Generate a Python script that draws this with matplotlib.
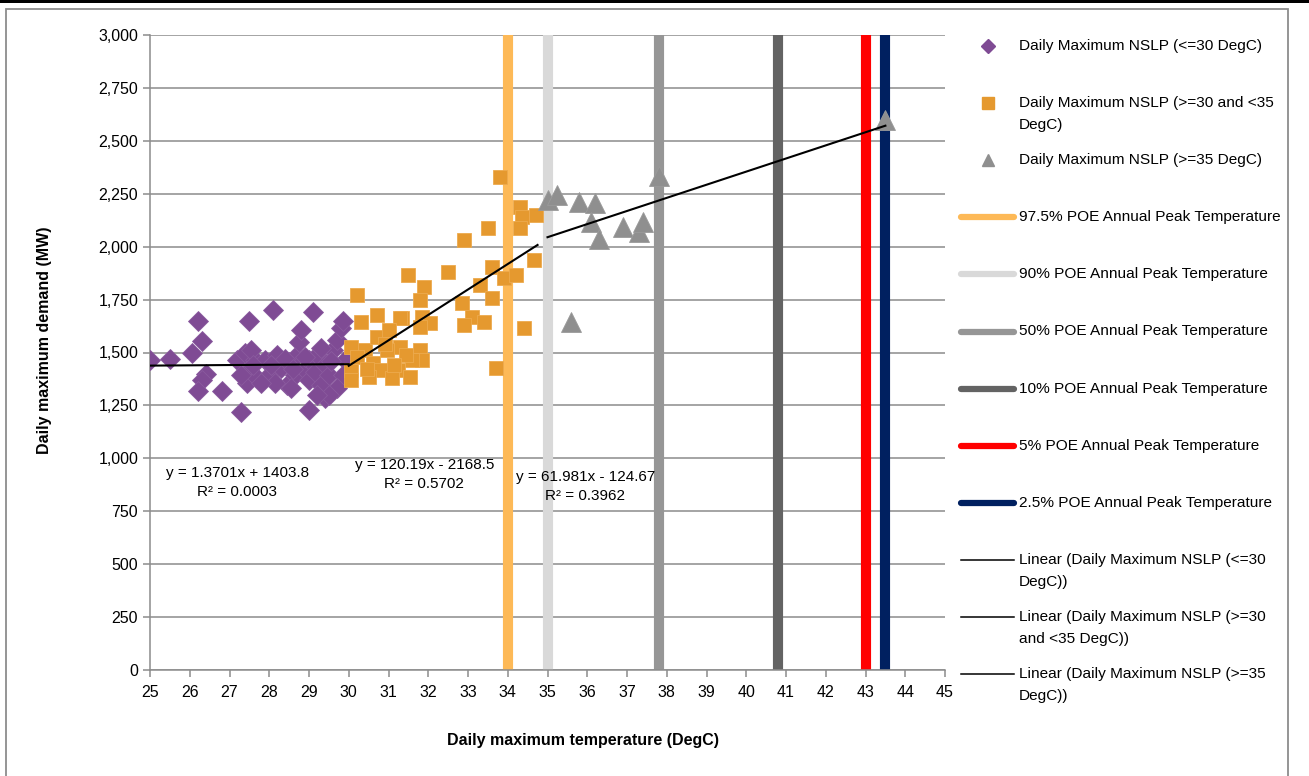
import matplotlib.pyplot as plt
from matplotlib.lines import Line2D
from matplotlib.patches import Rectangle

plt.rcParams['font.family'] = ['Liberation Sans Narrow', 'Liberation Sans', 'DejaVu Sans']

# Daily maximum NSLP (<=30 DegC)
cool_t = [25.0, 25.5, 26.05, 26.2, 26.3, 26.4, 26.3, 26.2, 26.8, 27.3, 27.5, 28.1, 29.1, 29.0, 29.4,
          27.2, 27.4, 27.5, 27.45, 27.65, 27.7, 27.3, 27.55,
          27.9, 28.0, 28.2, 28.3, 28.45, 28.5, 28.65, 28.7, 28.75, 28.8, 28.55, 28.15, 27.8,
          28.9, 29.0, 29.0, 29.15, 29.2, 29.3, 29.4, 29.5, 29.6, 29.7, 29.8, 29.85, 29.9, 29.85,
          29.7, 29.5, 29.2, 28.4, 28.6, 28.9, 29.3, 27.6, 28.05, 29.55]
cool_mw = [1465, 1470, 1500, 1650, 1555, 1400, 1370, 1320, 1320, 1220, 1650, 1700, 1690, 1230, 1285,
           1465, 1500, 1417, 1355, 1465, 1380, 1395, 1510,
           1465, 1395, 1490, 1425, 1345, 1455, 1395, 1490, 1550, 1605, 1330, 1355, 1355,
           1417, 1370, 1465, 1410, 1490, 1345, 1440, 1395, 1510, 1560, 1615, 1650, 1465, 1395,
           1330, 1300, 1300, 1470, 1420, 1480, 1520, 1440, 1440, 1460]

# Daily maximum NSLP (>=30 and <35 DegC)
warm_t = [33.8, 34.3, 34.35, 34.7, 34.3, 33.5, 32.9, 34.65, 33.6, 33.9, 34.2, 32.5, 31.5, 31.9,
          30.2, 33.3, 33.6, 32.85, 33.1, 32.9, 33.4, 34.4, 33.7, 31.8, 31.85, 32.05, 31.35, 31.8,
          30.3, 30.7, 31.3, 30.05, 30.05, 30.05, 30.4, 30.7, 31.0, 31.3, 30.95, 30.6, 30.8, 31.25,
          31.55, 31.1, 31.8, 31.85, 30.5, 31.6, 31.45, 30.2, 30.9, 31.15, 30.45]
warm_mw = [2329, 2187, 2140, 2150, 2088, 2088, 2031, 1937, 1904, 1852, 1866, 1880, 1866, 1809,
           1771, 1819, 1757, 1734, 1667, 1630, 1644, 1615, 1427, 1748, 1667, 1640, 1663, 1620,
           1644, 1677, 1663, 1526, 1417, 1370, 1512, 1573, 1606, 1526, 1512, 1450, 1417, 1417,
           1384, 1379, 1512, 1465, 1384, 1465, 1488, 1480, 1540, 1440, 1420]

# Daily maximum NSLP (>=35 DegC)
hot_t = [35.0, 35.25, 35.8, 36.2, 36.1, 36.3, 36.9, 37.3, 37.4, 37.8, 35.6, 43.5]
hot_mw = [2220, 2244, 2211, 2206, 2116, 2036, 2093, 2069, 2116, 2334, 1644, 2598]

# trendline coefficients (slope, intercept) and fitted range
trend_coef = [(1.3701, 1403.8), (120.19, -2168.5), (61.981, -124.67)]
trend_range = [(25.0, 30.0), (30.0, 34.75), (35.0, 43.5)]
trend_text = ['y = 1.3701x + 1403.8\nR² = 0.0003',
              'y = 120.19x - 2168.5\nR² = 0.5702',
              'y = 61.981x - 124.67\nR² = 0.3962']

# POE annual peak temperatures
poe_labels = ['97.5% POE Annual Peak Temperature', '90% POE Annual Peak Temperature',
              '50% POE Annual Peak Temperature', '10% POE Annual Peak Temperature',
              '5% POE Annual Peak Temperature', '2.5% POE Annual Peak Temperature']
poe_temps = [34.0, 35.0, 37.8, 40.8, 43.0, 43.5]
poe_colors = ['#FDB957', '#D9D9D9', '#969696', '#636363', '#FF0000', '#002060']

purple = '#7F4B94'
orange = '#E5992F'
grey = '#8F8F8F'

W, H = 1309, 776
fig = plt.figure(figsize=(W / 100, H / 100), dpi=100)
ax = fig.add_axes([150 / W, 1 - 670 / H, 795 / W, 635 / H])

for t, c in zip(poe_temps, poe_colors):
    ax.axvline(t, color=c, lw=7.3, zorder=2)

ax.plot(cool_t, cool_mw, 'D', ms=10.5, color=purple, mec='#8A5A9E', mew=0.6, zorder=3)
ax.plot(warm_t, warm_mw, 's', ms=10.5, color=orange, mec='#EDAA4E', mew=0.6, zorder=3)
ax.plot(hot_t, hot_mw, '^', ms=14, color=grey, mec='#9A9A9A', mew=0.6, zorder=3)

for (m, b), (x0, x1) in zip(trend_coef, trend_range):
    ax.plot([x0, x1], [m * x0 + b, m * x1 + b], color='black', lw=1.5, zorder=4)

eq_style = dict(ha='center', va='center', fontsize=11, linespacing=1.45)
ax.text(27.2, 885, trend_text[0], **eq_style)
ax.text(31.9, 925, trend_text[1], **eq_style)
ax.text(35.95, 865, trend_text[2], **eq_style)

ax.set_xlim(25, 45)
ax.set_ylim(0, 3000)
ax.set_xticks(range(25, 46))
ax.set_yticks(range(0, 3001, 250))
ax.set_yticklabels([f'{v:,}' for v in range(0, 3001, 250)])
ax.yaxis.grid(True, color='#8C8C8C', lw=1.1)
ax.set_axisbelow(True)
for s in ['top', 'right']:
    ax.spines[s].set_visible(False)
for s in ['left', 'bottom']:
    ax.spines[s].set_color('#8C8C8C')
    ax.spines[s].set_linewidth(1.1)
ax.tick_params(axis='both', colors='#8C8C8C', labelcolor='black', labelsize=11.5,
               length=5, width=1.1, direction='out')
ax.tick_params(axis='x', pad=6)

fig.text(45 / W, 1 - 340 / H, 'Daily maximum demand (MW)', rotation=90, ha='center',
         va='center', fontsize=11.5, fontweight='bold')
fig.text(583 / W, 1 - 741 / H, 'Daily maximum temperature (DegC)', ha='center',
         va='center', fontsize=11.5, fontweight='bold')

# legend, drawn entry by entry
legend_entries = [
    (['Daily Maximum NSLP (<=30 DegC)'], dict(marker='D', color=purple, ms=7, ls='none')),
    (['Daily Maximum NSLP (>=30 and <35', 'DegC)'], dict(marker='s', color=orange, ms=8, ls='none')),
    (['Daily Maximum NSLP (>=35 DegC)'], dict(marker='^', color=grey, ms=9, ls='none')),
]
for lab, c in zip(poe_labels, poe_colors):
    legend_entries.append(([lab], dict(color=c, lw=4.5, solid_capstyle='round')))
legend_entries += [
    (['Linear (Daily Maximum NSLP (<=30', 'DegC))'], dict(color='black', lw=1.1)),
    (['Linear (Daily Maximum NSLP (>=30', 'and <35 DegC))'], dict(color='black', lw=1.1)),
    (['Linear (Daily Maximum NSLP (>=35', 'DegC))'], dict(color='black', lw=1.1)),
]
for i, (lines, style) in enumerate(legend_entries):
    y = 46 + 57.1 * i
    if style.get('ls') == 'none':
        fig.add_artist(Line2D([988 / W], [1 - y / H], **style))
    else:
        fig.add_artist(Line2D([961 / W, 1014 / W], [1 - y / H, 1 - y / H], **style))
    for k, txt in enumerate(lines):
        fig.text(1019 / W, 1 - (y + 22 * k) / H, txt, ha='left', va='center', fontsize=11.1)

# chart frame
fig.add_artist(Rectangle((6 / W, -0.05), 1282 / W, 1 - 9.5 / H + 0.05, transform=fig.transFigure,
                         fill=False, ec='#8C8C8C', lw=1.3))
fig.add_artist(Rectangle((0, 1 - 3 / H), 1, 3 / H, transform=fig.transFigure,
                         color='black', lw=0))

fig.savefig('out.png', dpi=100)
